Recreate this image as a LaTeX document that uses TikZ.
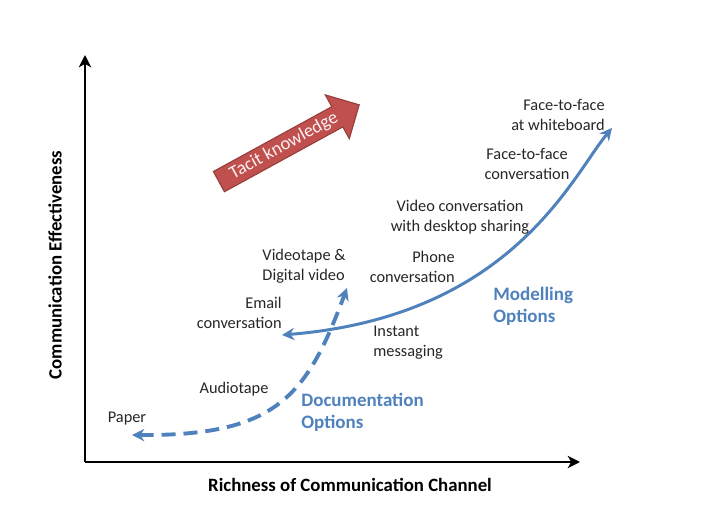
\documentclass[tikz,border=0pt]{standalone}
\usepackage{fontspec}
\setmainfont{Carlito}
\usepackage{tikz}
\usetikzlibrary{arrows.meta, shapes.arrows}
\definecolor{officeblue}{RGB}{79,129,189}
\definecolor{tacitred}{RGB}{192,80,77}
\definecolor{tacitedge}{RGB}{150,60,58}

\tikzset{
  lbl/.style={font=\fontsize{9.3}{11.3}\selectfont, text=black!85, inner sep=0pt},
  optlbl/.style={font=\fontsize{10.8}{12.5}\selectfont\bfseries, text=officeblue, inner sep=0pt, align=left},
  axlbl/.style={font=\fontsize{10.7}{12}\selectfont\bfseries, inner sep=0pt},
  curvetip/.tip={Stealth[length=7pt,width=7pt]}
}

\begin{document}
\begin{tikzpicture}
  \useasboundingbox (0,0) rectangle (14.14,10.3);
  % axes
  \coordinate (origin) at (1.7,1.06);
  \coordinate (ytop) at (1.7,9.2);
  \coordinate (xend) at (11.6,1.06);
  \draw[line width=1.5pt, -{Stealth[length=7pt,width=7pt,inset=2pt]}] (origin) -- (ytop);
  \draw[line width=1.5pt, -{Stealth[length=7pt,width=7pt,inset=2pt]}] (origin) -- (xend);
  \node[axlbl, rotate=90] (yaxlbl) at (1.1,5.0) {Communication Effectiveness};
  \node[axlbl] (xaxlbl) at (7.0,0.6) {Richness of Communication Channel};

  % tacit knowledge arrow
  \node[single arrow, fill=tacitred, draw=tacitedge, line width=0.6pt, rotate=28.7,
        minimum height=3.2cm, minimum width=1.0cm, single arrow head extend=0.24cm,
        inner sep=1pt, text=white!92!tacitred, font=\fontsize{10.5}{12}\selectfont,
        anchor=center] (tacit) at (5.68,7.38) {Tacit knowledge\hspace{0.5cm}};

  % modelling curve
  \coordinate (modstart) at (5.64,3.6);
  \coordinate (modend) at (12.24,7.74);
  \draw[officeblue, line width=1.7pt, curvetip-curvetip]
    (modstart) .. controls (10.24,3.97) and (11.44,6.78) .. (modend);

  % documentation curve
  \coordinate (docstart) at (2.64,1.6);
  \coordinate (docend) at (6.94,4.54);
  \draw[officeblue, line width=2.2pt, dash pattern=on 8pt off 4.5pt, curvetip-curvetip]
    (docstart) .. controls (5.54,1.58) and (6.135,2.38) .. (docend);

  % channel labels
  \node[lbl, align=right, anchor=east] (whiteboard) at (12.1,8.0) {Face-to-face\\at whiteboard};
  \node[lbl, align=center] (facetoface) at (10.54,7.02) {Face-to-face\\conversation};
  \node[lbl, align=center] (videoconv) at (9.2,5.96) {Video conversation\\with desktop sharing};
  \node[lbl, align=right, anchor=east] (phone) at (9.1,4.96) {Phone\\conversation};
  \node[lbl, align=left] (videotape) at (6.08,4.98) {Videotape \&\\Digital video};
  \node[lbl, align=right, anchor=east] (email) at (5.64,4.04) {Email\\conversation};
  \node[lbl, align=left, anchor=west] (instant) at (7.46,3.44) {Instant\\messaging};
  \node[lbl] (audiotape) at (4.68,2.52) {Audiotape};
  \node[lbl] (paper) at (2.54,1.92) {Paper};

  % option labels
  \node[optlbl, anchor=west] (modelling) at (9.86,4.18) {Modelling\\Options};
  \node[optlbl, anchor=west] (documentation) at (6.02,2.06) {Documentation\\Options};
\end{tikzpicture}
\end{document}
